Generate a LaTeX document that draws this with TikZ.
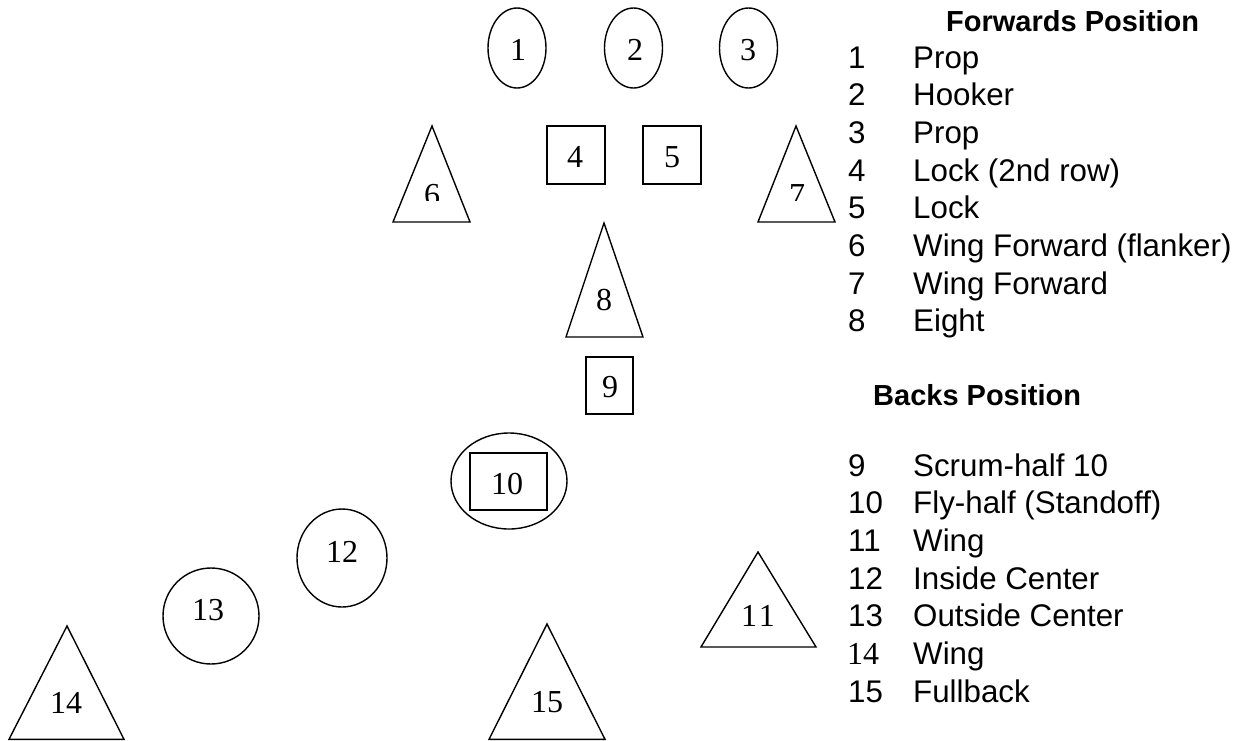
\documentclass[tikz,border=0pt]{standalone}
\usepackage{fontspec}
\setmainfont{Liberation Serif}
\newfontfamily\arialfont{Liberation Sans}
\begin{document}
\begin{tikzpicture}[x=1pt,y=-1pt,
  shp/.style={draw=black, line width=1.4pt, line join=miter},
  lbl/.style={anchor=base, inner sep=0pt, font=\fontsize{32}{36}\selectfont},
  leg/.style={anchor=base west, inner sep=0pt, font=\arialfont\fontsize{31.3}{34}\selectfont},
  legh/.style={anchor=base west, inner sep=0pt, font=\arialfont\bfseries\fontsize{29}{32}\selectfont}]
\useasboundingbox (0,0) rectangle (1243,740);

% front row (ellipses)
\draw[shp] (517,48) ellipse [x radius=29, y radius=40];
\draw[shp] (633.5,48) ellipse [x radius=29, y radius=40];
\draw[shp] (748.5,48) ellipse [x radius=29, y radius=40];
\node[lbl] (n1) at (518,60) {1};
\node[lbl] (n2) at (635,60) {2};
\node[lbl] (n3) at (748,60) {3};

% locks (squares)
\draw[shp] (547,126) rectangle (605,184);
\draw[shp] (643,126) rectangle (701,184);
\node[lbl] (n4) at (575,167) {4};
\node[lbl] (n5) at (672,167) {5};

% flankers (triangles)
\draw[shp] (432,126) -- (470,222) -- (393,222) -- cycle;
\draw[shp] (796,126) -- (835,222) -- (758,222) -- cycle;
\begin{scope}
\clip (380,120) rectangle (850,200);
\node[lbl] (n6) at (432,205) {6};
\node[lbl] (n7) at (797,205) {7};
\end{scope}

% eight
\draw[shp] (604,223) -- (643,337) -- (566,337) -- cycle;
\node[lbl] (n8) at (604,310) {8};

% scrum-half
\draw[shp] (586,357) rectangle (633,414);
\node[lbl] (n9) at (610,397) {9};

% fly-half
\draw[shp] (509,481) ellipse [x radius=58, y radius=48];
\draw[shp] (470,453) rectangle (547,510);
\node[lbl] (n10) at (507,494) {10};

% centres
\draw[shp] (342,558) ellipse [x radius=45, y radius=49];
\node[lbl] (n12) at (342,562) {12};
\draw[shp] (211,616) ellipse [x radius=48, y radius=48];
\node[lbl] (n13) at (208,620) {13};

% wings and fullback
\draw[shp] (758,552) -- (816,647) -- (701,647) -- cycle;
\node[lbl] (n11) at (758,626) {1\kern2pt1};
\draw[shp] (67,626) -- (124,739.3) -- (9,739.3) -- cycle;
\node[lbl] (n14) at (66,713) {14};
\draw[shp] (547,624) -- (605,739.3) -- (489,739.3) -- cycle;
\node[lbl] (n15) at (547,712) {15};

% legend
\node[legh] (fh) at (946,31) {Forwards Position};
\foreach \n/\t [count=\i from 0] in {1/Prop,2/Hooker,3/Prop,4/Lock (2nd row),5/Lock,6/Wing Forward (flanker),7/Wing Forward,8/Eight}{
  \node[leg] (fn\n) at (848,68+37.7*\i) {\n};
  \node[leg] (ft\n) at (913,68+37.7*\i) {\t};
}
\node[legh] (bh) at (873,405) {Backs Position};
\foreach \n/\t [count=\i from 0] in {9/Scrum-half 10,10/Fly-half (Standoff),11/Wing,12/Inside Center,13/Outside Center,14/Wing,15/Fullback}{
  \node[leg] (bt\n) at (913,476+37.7*\i) {\t};
}
\node[leg] (bn9) at (848,476) {9};
\node[leg] (bn10) at (848,513.7) {10};
\node[leg] (bn11) at (848,551.4) {11};
\node[leg] (bn12) at (848,589.1) {12};
\node[leg] (bn13) at (848,626.8) {13};
\node[anchor=base west, inner sep=0pt, font=\fontsize{32}{34}\selectfont] (bn14) at (847,664.5) {14};
\node[leg] (bn15) at (848,702.2) {15};
\end{tikzpicture}
\end{document}
